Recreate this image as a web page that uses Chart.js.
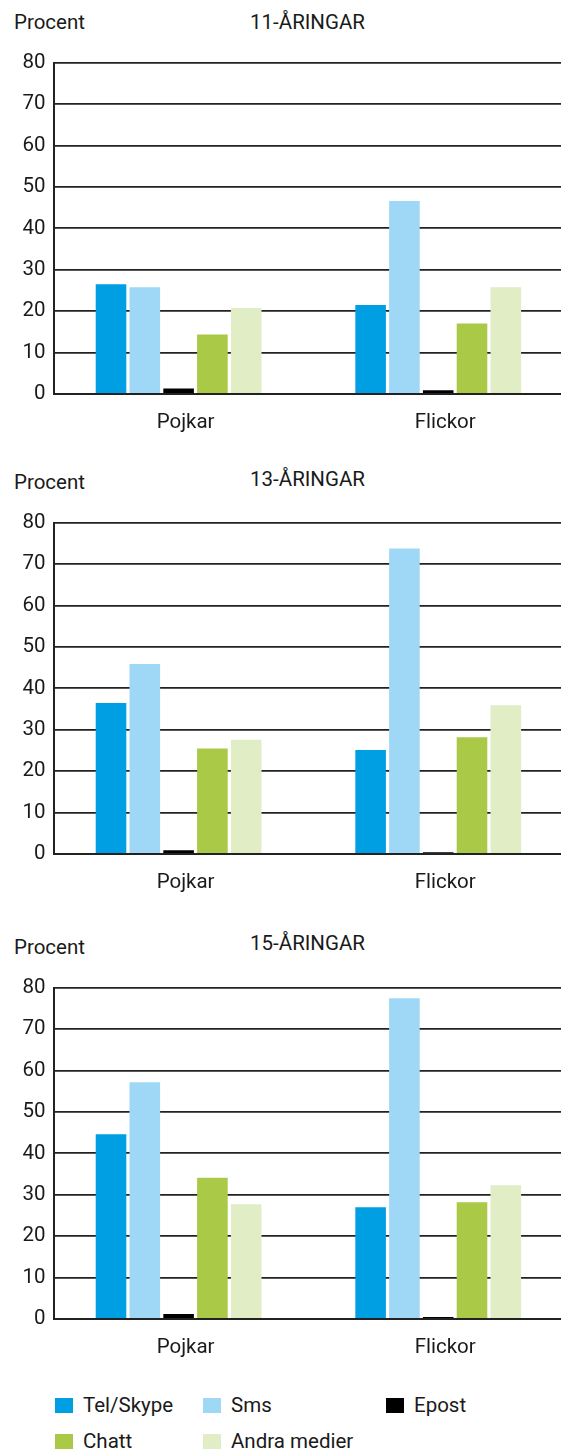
<!DOCTYPE html>
<html>
<head>
<meta charset="utf-8">
<script src="https://cdn.jsdelivr.net/npm/chart.js@4/dist/chart.umd.min.js"></script>
<style>
body{margin:0;background:#fff;font-family:Roboto,sans-serif;color:#1a1a1a;}
#page{position:relative;width:561px;height:1449px;overflow:hidden;}
.lbl{position:absolute;font-size:20.5px;line-height:24px;white-space:nowrap;}
.ttl{position:absolute;left:54px;width:507px;text-align:center;font-size:20.5px;line-height:24px;}
.box{position:absolute;left:0;width:561px;height:392px;}
.sq{position:absolute;width:18px;height:15px;}
</style>
</head>
<body>
<div id="page">
  <div class="lbl" style="left:14px;top:10px">Procent</div>
  <div class="ttl" id="t0" style="top:10px"></div>
  <div class="box" style="top:42px"><canvas id="c0"></canvas></div>

  <div class="lbl" style="left:14px;top:470px">Procent</div>
  <div class="ttl" id="t1" style="top:467px"></div>
  <div class="box" style="top:502px"><canvas id="c1"></canvas></div>

  <div class="lbl" style="left:14px;top:935px">Procent</div>
  <div class="ttl" id="t2" style="top:931px"></div>
  <div class="box" style="top:967px"><canvas id="c2"></canvas></div>

  <div id="legend"></div>
</div>
<script>
const groups = ["Pojkar", "Flickor"];
const ages = ["11-ÅRINGAR", "13-ÅRINGAR", "15-ÅRINGAR"];
const series = ["Tel/Skype", "Sms", "Epost", "Chatt", "Andra medier"];
const colors = ["#009fe3", "#9ed8f6", "#000000", "#a9c947", "#e1edc5"];

// [Pojkar, Flickor] per age group
const telSkype = [[26.5, 21.5], [36.5, 25.1], [44.6, 27.0]];
const sms = [[25.8, 46.6], [45.9, 73.8], [57.2, 77.5]];
const epost = [[1.3, 0.9], [0.9, 0.4], [1.2, 0.5]];
const chatt = [[14.4, 17.0], [25.5, 28.2], [34.1, 28.2]];
const andraMedier = [[20.8, 25.8], [27.6, 35.9], [27.7, 32.3]];

const allSeries = [telSkype, sms, epost, chatt, andraMedier];
const txt = "#1a1a1a";
const font = {family: "Roboto", size: 20.5};

function makeChart(k){
  document.getElementById("t" + k).innerText = ages[k];
  const ctx = document.getElementById("c" + k).getContext("2d");
  new Chart(ctx, {
    type: "bar",
    data: {
      datasets: series.map((s, j) => ({
        label: s,
        data: allSeries[j][k].map((v, i) => ({x: i, y: v})),
        backgroundColor: colors[j],
        borderWidth: 0,
        categoryPercentage: 0.651,
        barPercentage: 0.905
      }))
    },
    options: {
      responsive: true,
      maintainAspectRatio: false,
      animation: false,
      layout: {padding: {top: 15, left: 0, right: 0, bottom: 0}},
      plugins: {legend: {display: false}, tooltip: {enabled: false}},
      scales: {
        x: {
          type: "linear",
          min: -0.48,
          max: 1.473,
          offset: false,
          afterBuildTicks: s => { s.ticks = groups.map((g, i) => ({value: i})); },
          afterFit: s => { s.height = 40; },
          grid: {display: false, drawTicks: false},
          border: {display: true, color: "#222", width: 2},
          ticks: {
            callback: v => groups[v],
            color: txt, font: font, padding: 17, labelOffset: 7,
            maxRotation: 0, autoSkip: false
          }
        },
        y: {
          min: 0,
          max: 80,
          afterFit: s => { s.width = 54; },
          grid: {color: "#222", lineWidth: 1.8, drawTicks: false},
          border: {display: true, color: "#222", width: 2},
          ticks: {stepSize: 10, color: txt, font: font, padding: 8.5}
        }
      }
    }
  });
}

[0, 1, 2].forEach(makeChart);

// legend, laid out as a grid
const legendPos = [[55, 1398], [203, 1398], [386, 1398], [55, 1434], [203, 1434]];
const leg = document.getElementById("legend");
series.forEach((s, j) => {
  const [x, y] = legendPos[j];
  leg.innerHTML += `<div class="sq" style="left:${x}px;top:${y}px;background:${colors[j]}"></div>
    <div class="lbl" style="left:${x + 28}px;top:${y - 5}px">${s}</div>`;
});
</script>
</body>
</html>
